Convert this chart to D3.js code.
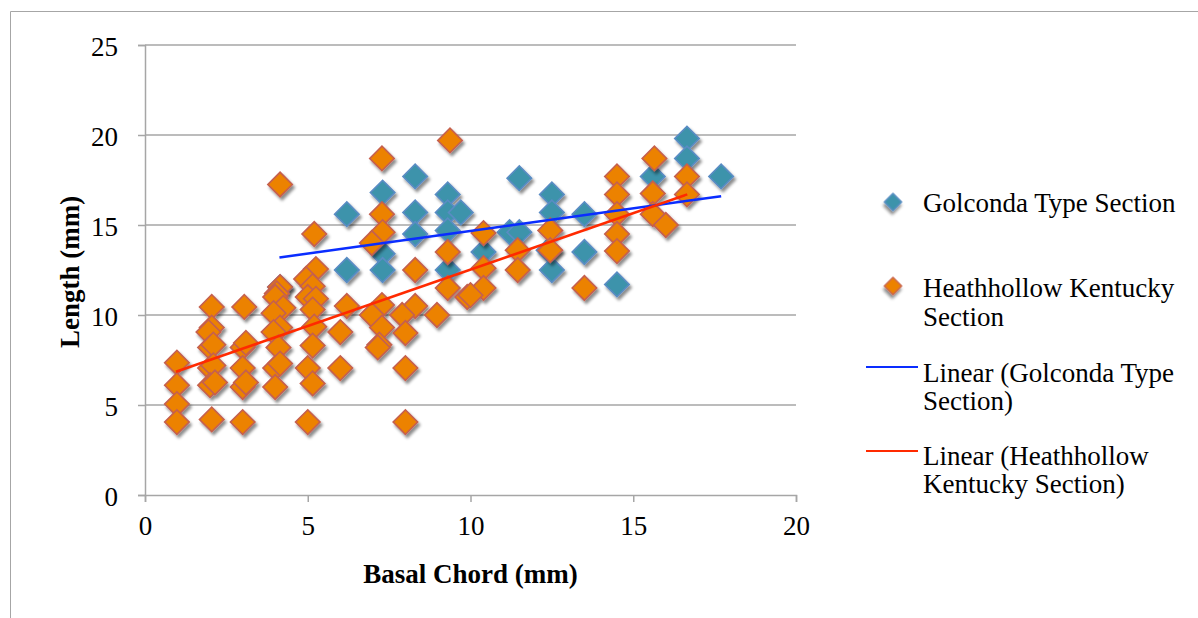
<!DOCTYPE html>
<html><head><meta charset="utf-8">
<script src="https://cdn.jsdelivr.net/npm/d3@7"></script>
<style>
html,body{margin:0;padding:0;background:#fff;}
svg text{font-family:"Liberation Serif","Times New Roman",serif;fill:#000;}
</style></head>
<body>
<svg id="chart" width="1198" height="618"></svg>
<script>
// ---- data ----
const xTicks = [0, 5, 10, 15, 20];
const yTicks = [0, 5, 10, 15, 20, 25];
const seriesNames = ["Golconda Type Section", "Heathhollow Kentucky Section"];
const trendNames = ["Linear (Golconda Type Section)", "Linear (Heathhollow Kentucky Section)"];

const golcondaX = [4.15, 6.2, 6.2, 7.3, 7.3, 7.3, 8.3, 8.3, 8.3, 9.3, 9.3, 9.7, 9.3, 9.3, 10.4, 11.2, 11.5, 11.5, 12.5, 12.5, 12.4, 12.5, 13.5, 13.5, 14.5, 15.6, 16.65, 16.65, 17.7];
const golcondaY = [11.55, 15.6, 12.5, 16.8, 13.4, 12.5, 17.7, 15.7, 14.5, 16.7, 15.7, 15.7, 14.7, 12.5, 13.5, 14.6, 14.6, 17.6, 16.7, 15.7, 13.6, 12.5, 15.6, 13.5, 11.7, 17.7, 19.8, 18.7, 17.7];

const heathX = [0.98, 0.98, 0.98, 0.98,
  2.05, 2.05, 1.95, 2.0, 2.1, 2.0, 2.1, 2.0, 2.15, 2.05,
  3.05, 3.0, 3.1, 3.0, 3.0, 3.1, 3.0,
  4.15, 4.15, 4.05, 4.0, 4.25, 3.95, 4.15, 3.95, 4.1, 4.0, 4.15, 4.0,
  5.2, 5.25, 4.95, 5.15, 5.0, 5.25, 5.15, 5.2, 5.15, 5.0, 5.15, 5.0,
  6.2, 6.0, 6.0,
  7.28, 7.28, 7.3, 6.97, 7.28, 6.97, 7.28, 7.2, 7.15,
  8.3, 8.3, 7.9, 8.0, 8.0, 8.0,
  8.97, 9.37, 9.3, 9.3, 9.9,
  10.4, 10.4, 10.4, 10.0,
  11.45, 11.45,
  12.45, 12.45,
  13.5,
  14.5, 14.5, 14.5, 14.5, 14.5,
  15.65, 15.6, 15.6, 16.0,
  16.65, 16.65];
const heathY = [7.35, 6.1, 5.05, 4.05,
  10.45, 9.3, 9.05, 8.2, 8.35, 7.05, 7.2, 6.1, 6.25, 4.2,
  10.45, 8.2, 8.45, 7.05, 6.0, 6.25, 4.05,
  17.25, 11.55, 11.2, 11.0, 10.4, 10.1, 9.3, 9.05, 8.2, 7.05, 7.3, 6.0,
  14.5, 12.55, 12.0, 11.6, 11.0, 10.9, 10.3, 9.35, 8.3, 7.05, 6.2, 4.05,
  10.5, 9.05, 7.05,
  18.7, 15.6, 14.6, 14.0, 10.55, 10.0, 9.3, 8.35, 8.2,
  12.5, 10.5, 10.0, 9.0, 7.05, 4.05,
  10.0, 19.7, 13.5, 11.5, 11.0,
  14.55, 12.6, 11.5, 11.1,
  13.6, 12.5,
  14.7, 13.6,
  11.5,
  17.7, 16.7, 15.6, 14.5, 13.55,
  18.7, 16.75, 15.6, 15.0,
  17.7, 16.7];

// trend line endpoints
const golcondaTrendX = [4.13, 17.7];
const golcondaTrendY = [13.2, 16.6];
const heathTrendX = [0.95, 16.66];
const heathTrendY = [6.85, 16.7];

// ---- layout ----
const svg = d3.select("#chart");
const L = 145, R = 796, T = 45, B = 495;
const x = d3.scaleLinear().domain([0, 20]).range([L, R]);
const y = d3.scaleLinear().domain([0, 25]).range([B, T]);
const grid = "#a6a6a6";

const defs = svg.append("defs");
const f = defs.append("filter").attr("id", "sh").attr("x", "-50%").attr("y", "-50%").attr("width", "200%").attr("height", "200%");
f.append("feDropShadow").attr("dx", 2).attr("dy", 3).attr("stdDeviation", 1.8)
  .attr("flood-color", "#000").attr("flood-opacity", 0.45);

// outer border (top & left)
svg.append("line").attr("x1", 10.5).attr("x2", 1198).attr("y1", 11.5).attr("y2", 11.5).attr("stroke", grid).attr("stroke-width", 1);
svg.append("line").attr("x1", 10.5).attr("x2", 10.5).attr("y1", 11.5).attr("y2", 618).attr("stroke", grid).attr("stroke-width", 1);

// gridlines
svg.append("g").selectAll("line").data(yTicks.filter(d => d > 0)).join("line")
  .attr("x1", L).attr("x2", R).attr("y1", d => y(d)).attr("y2", d => y(d))
  .attr("stroke", grid).attr("stroke-width", 1.5);

// axes
const yAxis = svg.append("g").attr("transform", `translate(${L},0)`)
  .call(d3.axisLeft(y).tickValues(yTicks).tickSize(7).tickPadding(20));
const xAxis = svg.append("g").attr("transform", `translate(0,${B})`)
  .call(d3.axisBottom(x).tickValues(xTicks).tickSize(7).tickPadding(14));
[xAxis, yAxis].forEach(g => {
  g.select(".domain").attr("stroke", grid).attr("stroke-width", 1.5);
  g.selectAll(".tick line").attr("stroke", grid).attr("stroke-width", 1.5);
  g.selectAll(".tick text").style("font-family", '"Liberation Serif",serif').style("font-size", "27px").attr("fill", "#000");
});
yAxis.selectAll(".tick text").attr("dy", "0.4em");

// axis titles
svg.append("text").attr("x", x(10)).attr("y", 583).attr("text-anchor", "middle")
  .style("font-size", "27px").style("font-weight", "bold").text("Basal Chord (mm)");
svg.append("text").attr("transform", `translate(79,${y(12.4)}) rotate(-90)`).attr("text-anchor", "middle")
  .style("font-size", "27px").style("font-weight", "bold").text("Length (mm)");

// points
const diamond = d3.symbol().type(d3.symbolSquare).size(300);
const blueFill = "#3d93ab", blueStroke = "#5a8cc4";
const orFill = "#ec8200", orStroke = "#c5604f";
const gData = golcondaX.map((v, i) => [v, golcondaY[i]]);
const hData = heathX.map((v, i) => [v, heathY[i]]);

svg.append("g").attr("filter", "url(#sh)").selectAll("path").data(gData).join("path")
  .attr("d", diamond).attr("transform", d => `translate(${x(d[0])},${y(d[1])}) rotate(45)`)
  .attr("fill", blueFill).attr("stroke", blueStroke).attr("stroke-width", 1.6);
svg.append("g").attr("filter", "url(#sh)").selectAll("path").data(hData).join("path")
  .attr("d", diamond).attr("transform", d => `translate(${x(d[0])},${y(d[1])}) rotate(45)`)
  .attr("fill", orFill).attr("stroke", orStroke).attr("stroke-width", 1.6);

// trend lines
const line = d3.line().x(d => x(d[0])).y(d => y(d[1]));
svg.append("path").datum(golcondaTrendX.map((v, i) => [v, golcondaTrendY[i]]))
  .attr("d", line).attr("fill", "none").attr("stroke", "#0a2dff").attr("stroke-width", 2.5);
svg.append("path").datum(heathTrendX.map((v, i) => [v, heathTrendY[i]]))
  .attr("d", line).attr("fill", "none").attr("stroke", "#ff2a00").attr("stroke-width", 2.5);

// legend
const lg = svg.append("g");
const smallDiamond = d3.symbol().type(d3.symbolSquare).size(150);
const lx = 923;
lg.append("path").attr("d", smallDiamond).attr("transform", "translate(893,202) rotate(45)")
  .attr("fill", blueFill).attr("stroke", blueStroke).attr("stroke-width", 1.2).attr("filter", "url(#sh)");
lg.append("text").attr("x", lx).attr("y", 212).style("font-size", "27px").text("Golconda Type Section");

lg.append("path").attr("d", smallDiamond).attr("transform", "translate(893,286) rotate(45)")
  .attr("fill", orFill).attr("stroke", orStroke).attr("stroke-width", 1.2).attr("filter", "url(#sh)");
lg.append("text").attr("x", lx).attr("y", 297).style("font-size", "27px").text("Heathhollow Kentucky");
lg.append("text").attr("x", lx).attr("y", 326).style("font-size", "27px").text("Section");

lg.append("line").attr("x1", 866).attr("x2", 918).attr("y1", 367).attr("y2", 367).attr("stroke", "#0a2dff").attr("stroke-width", 2);
lg.append("text").attr("x", lx).attr("y", 382).style("font-size", "27px").text("Linear (Golconda Type");
lg.append("text").attr("x", lx).attr("y", 410).style("font-size", "27px").text("Section)");

lg.append("line").attr("x1", 866).attr("x2", 918).attr("y1", 451).attr("y2", 451).attr("stroke", "#ff2a00").attr("stroke-width", 2);
lg.append("text").attr("x", lx).attr("y", 465).style("font-size", "27px").text("Linear (Heathhollow");
lg.append("text").attr("x", lx).attr("y", 493).style("font-size", "27px").text("Kentucky Section)");
</script>
</body></html>
